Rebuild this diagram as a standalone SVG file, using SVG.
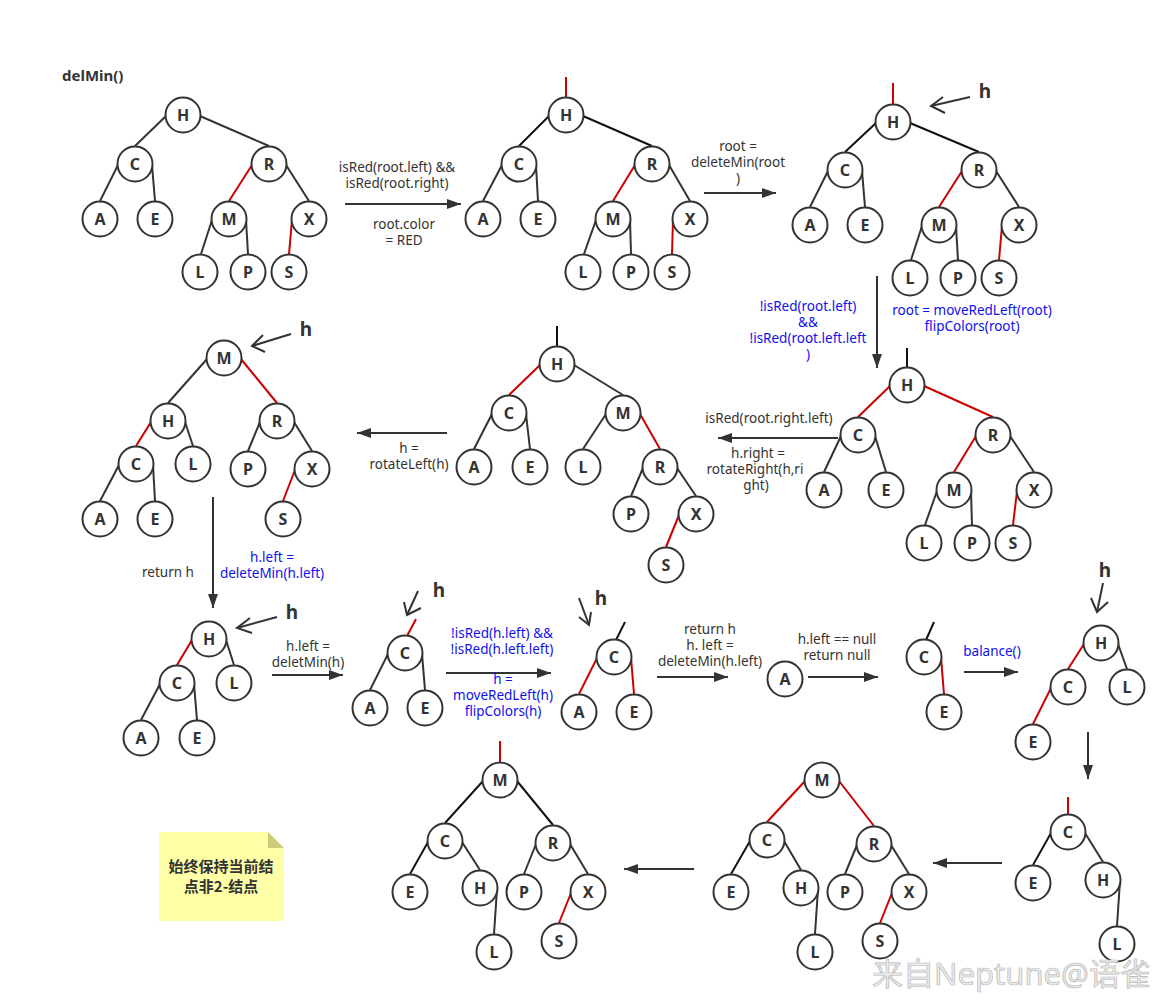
<svg xmlns="http://www.w3.org/2000/svg" width="1176" height="1002" viewBox="0 0 1176 1002">
<style>
.n circle{fill:#fff;stroke:#333;stroke-width:2}
.n text{font-family:"Noto Sans","Open Sans",sans-serif;font-weight:bold;font-size:16px;fill:#333;text-anchor:middle}
.e line{stroke:#333;stroke-width:2}
.e line.r{stroke:#cc0000}
.e line.k{stroke:#111}
.a{stroke:#333;stroke-width:2;fill:none}
.lb{font-family:"Noto Sans","Open Sans",sans-serif;font-size:13.5px;fill:#333;text-anchor:middle}
.bl{fill:#1010ee}
.hl{font-family:"Noto Sans","Open Sans",sans-serif;font-weight:bold;font-size:19px;fill:#333;text-anchor:middle}
</style>
<defs>
<marker id="arr" markerUnits="userSpaceOnUse" markerWidth="14" markerHeight="10" refX="14" refY="5" orient="auto"><path d="M0,0 L14,5 L0,10 z" fill="#333"/></marker>
</defs>
<rect width="1176" height="1002" fill="#fff"/>
<text x="62" y="81" style="font-family:'Noto Sans',sans-serif;font-weight:bold;font-size:15px;fill:#333">delMin()</text>

<g id="connectors">
<g class="e">
<!-- t1 -->
<line x1="166" y1="116" x2="135" y2="146"/><line x1="200" y1="116" x2="269" y2="146"/>
<line x1="118" y1="165" x2="100" y2="201"/><line x1="152" y1="165" x2="155" y2="201"/>
<line class="r" x1="252" y1="165" x2="229" y2="201"/><line x1="286" y1="165" x2="309" y2="201"/>
<line x1="212" y1="220" x2="201" y2="254"/><line x1="246" y1="220" x2="248" y2="254"/>
<line class="r" x1="292" y1="220" x2="289" y2="254"/>
<!-- t2 -->
<line class="r" x1="566" y1="77" x2="566" y2="97"/>
<line class="k" x1="549" y1="116" x2="519" y2="146"/><line class="k" x1="583" y1="116" x2="652" y2="146"/>
<line x1="502" y1="165" x2="483" y2="201"/><line x1="536" y1="165" x2="538" y2="201"/>
<line class="r" x1="635" y1="165" x2="613" y2="201"/><line x1="669" y1="165" x2="690" y2="201"/>
<line x1="596" y1="220" x2="584" y2="254"/><line x1="630" y1="220" x2="631" y2="254"/>
<line class="r" x1="673" y1="220" x2="672" y2="254"/>
<!-- t3 -->
<line class="r" x1="893" y1="83" x2="893" y2="104"/>
<line class="k" x1="876" y1="123" x2="845" y2="152"/><line class="k" x1="910" y1="123" x2="979" y2="152"/>
<line x1="828" y1="171" x2="810" y2="207"/><line x1="862" y1="171" x2="865" y2="207"/>
<line class="r" x1="962" y1="171" x2="939" y2="207"/><line x1="996" y1="171" x2="1019" y2="207"/>
<line x1="922" y1="226" x2="911" y2="260"/><line x1="956" y1="226" x2="958" y2="260"/>
<line class="r" x1="1002" y1="226" x2="999" y2="260"/>
<!-- t4 -->
<line class="k" x1="907" y1="348" x2="907" y2="367"/>
<line class="r" x1="890" y1="386" x2="858" y2="417"/><line class="r" x1="924" y1="386" x2="993" y2="417"/>
<line x1="841" y1="436" x2="824" y2="472"/><line x1="875" y1="436" x2="886" y2="472"/>
<line class="r" x1="976" y1="436" x2="954" y2="472"/><line x1="1010" y1="436" x2="1034" y2="472"/>
<line x1="937" y1="491" x2="925" y2="525"/><line x1="971" y1="491" x2="972" y2="525"/>
<line class="r" x1="1017" y1="491" x2="1013" y2="525"/>
<!-- t5 -->
<line class="k" x1="557" y1="326" x2="557" y2="346"/>
<line class="r" x1="540" y1="365" x2="509" y2="395"/><line x1="574" y1="365" x2="623" y2="395"/>
<line x1="492" y1="414" x2="474" y2="449"/><line x1="526" y1="414" x2="530" y2="449"/>
<line x1="606" y1="414" x2="583" y2="449"/><line class="r" x1="640" y1="414" x2="660" y2="449"/>
<line x1="643" y1="468" x2="631" y2="496"/><line x1="677" y1="468" x2="696" y2="496"/>
<line class="r" x1="679" y1="515" x2="666" y2="547"/>
<!-- t6 -->
<line x1="207" y1="359" x2="168" y2="403"/><line class="r" x1="241" y1="359" x2="277" y2="403"/>
<line class="r" x1="151" y1="422" x2="136" y2="446"/><line x1="185" y1="422" x2="193" y2="446"/>
<line x1="260" y1="422" x2="248" y2="451"/><line x1="294" y1="422" x2="312" y2="451"/>
<line x1="119" y1="465" x2="100" y2="501"/><line x1="153" y1="465" x2="155" y2="501"/>
<line class="r" x1="295" y1="470" x2="283" y2="501"/>
<!-- t7 -->
<line class="r" x1="192" y1="640" x2="177" y2="665"/><line x1="226" y1="640" x2="234" y2="665"/>
<line x1="160" y1="684" x2="141" y2="720"/><line x1="194" y1="684" x2="197" y2="720"/>
<!-- t8 -->
<line class="r" x1="407" y1="636" x2="416" y2="619"/>
<line x1="388" y1="654" x2="370" y2="690"/><line x1="422" y1="654" x2="425" y2="690"/>
<!-- t9 -->
<line class="k" x1="616" y1="640" x2="625" y2="622"/>
<line class="r" x1="597" y1="658" x2="579" y2="694"/><line class="r" x1="631" y1="658" x2="634" y2="694"/>
<!-- t11 -->
<line class="k" x1="926" y1="640" x2="934" y2="622"/>
<line class="r" x1="941" y1="658" x2="944" y2="694"/>
<!-- t12 -->
<line class="r" x1="1084" y1="644" x2="1068" y2="669"/><line x1="1118" y1="644" x2="1127" y2="669"/>
<line class="r" x1="1051" y1="688" x2="1033" y2="724"/>
<!-- t13 -->
<line class="r" x1="1068" y1="797" x2="1068" y2="814"/>
<line class="k" x1="1051" y1="833" x2="1033" y2="865"/><line x1="1085" y1="833" x2="1103" y2="862"/>
<line x1="1120" y1="881" x2="1117" y2="926"/>
<!-- t14 -->
<line class="r" x1="805" y1="781" x2="767" y2="822"/><line class="r" x1="839" y1="781" x2="874" y2="826"/>
<line class="k" x1="750" y1="841" x2="731" y2="874"/><line x1="784" y1="841" x2="801" y2="870"/>
<line x1="857" y1="845" x2="845" y2="874"/><line x1="891" y1="845" x2="909" y2="874"/>
<line x1="818" y1="889" x2="815" y2="934"/>
<line class="r" x1="892" y1="893" x2="880" y2="923"/>
<!-- t15 -->
<line class="r" x1="500" y1="741" x2="500" y2="762"/>
<line class="k" x1="483" y1="781" x2="445" y2="823"/><line class="k" x1="517" y1="781" x2="553" y2="825"/>
<line class="k" x1="428" y1="842" x2="410" y2="874"/><line x1="462" y1="842" x2="480" y2="870"/>
<line x1="536" y1="844" x2="524" y2="874"/><line x1="570" y1="844" x2="588" y2="874"/>
<line x1="497" y1="889" x2="494" y2="934"/>
<line class="r" x1="571" y1="893" x2="559" y2="923"/>
</g>
<!-- step arrows -->
<g class="a" marker-end="url(#arr)">
<line x1="345" y1="204" x2="461" y2="204"/>
<line x1="704" y1="193" x2="776" y2="193"/>
<line x1="877" y1="276" x2="877" y2="368"/>
<line x1="838" y1="438" x2="718" y2="438"/>
<line x1="447" y1="433" x2="357" y2="433"/>
<line x1="213" y1="497" x2="213" y2="608"/>
<line x1="272" y1="675" x2="343" y2="675"/>
<line x1="446" y1="673" x2="551" y2="673"/>
<line x1="657" y1="677" x2="728" y2="677"/>
<line x1="808" y1="677" x2="878" y2="677"/>
<line x1="964" y1="672" x2="1018" y2="672"/>
<line x1="1088" y1="732" x2="1088" y2="779"/>
<line x1="1002" y1="863" x2="933" y2="863"/>
<line x1="694" y1="869" x2="624" y2="869"/>
</g>
<!-- h pointers -->
<g class="a">
<line x1="970" y1="97" x2="931" y2="106"/><polyline points="943,97 931,106 945,113"/>
<line x1="291" y1="334" x2="252" y2="346"/><polyline points="263,335 252,346 265,352"/>
<line x1="277" y1="617" x2="237" y2="628"/><polyline points="250,618 237,628 252,633"/>
<line x1="418" y1="591" x2="407" y2="615"/><polyline points="404,602 407,615 421,608"/>
<line x1="579" y1="598" x2="589" y2="625"/><polyline points="579,617 589,625 591,612"/>
<line x1="1103" y1="583" x2="1097" y2="612"/><polyline points="1091,598 1097,612 1108,602"/>
</g>
</g>

<g id="pointer-labels">
<text class="hl" x="985" y="98">h</text>
<text class="hl" x="306" y="336">h</text>
<text class="hl" x="292" y="619">h</text>
<text class="hl" x="439" y="597">h</text>
<text class="hl" x="601" y="605">h</text>
<text class="hl" x="1105" y="577">h</text>
</g>

<g id="labels">
<text class="lb" x="397" y="172">isRed(root.left) &amp;&amp;</text>
<text class="lb" x="397" y="188">isRed(root.right)</text>
<text class="lb" x="404" y="229">root.color</text>
<text class="lb" x="404" y="245">= RED</text>
<text class="lb" x="738" y="151">root =</text>
<text class="lb" x="738" y="167">deleteMin(root</text>
<text class="lb" x="738" y="183">)</text>
<text class="lb bl" x="808" y="311">!isRed(root.left)</text>
<text class="lb bl" x="808" y="327">&amp;&amp;</text>
<text class="lb bl" x="808" y="343">!isRed(root.left.left</text>
<text class="lb bl" x="808" y="359">)</text>
<text class="lb bl" x="972" y="315">root = moveRedLeft(root)</text>
<text class="lb bl" x="972" y="331">flipColors(root)</text>
<text class="lb" x="769" y="423">isRed(root.right.left)</text>
<text class="lb" x="758" y="458">h.right =</text>
<text class="lb" x="755" y="474">rotateRight(h,ri</text>
<text class="lb" x="756" y="490">ght)</text>
<text class="lb" x="409" y="453">h =</text>
<text class="lb" x="409" y="469">rotateLeft(h)</text>
<text class="lb" x="168" y="577">return h</text>
<text class="lb bl" x="272" y="562">h.left =</text>
<text class="lb bl" x="272" y="578">deleteMin(h.left)</text>
<text class="lb" x="308" y="651">h.left =</text>
<text class="lb" x="308" y="667">deletMin(h)</text>
<text class="lb bl" x="502" y="638">!isRed(h.left) &amp;&amp;</text>
<text class="lb bl" x="502" y="654">!isRed(h.left.left)</text>
<text class="lb bl" x="503" y="684">h =</text>
<text class="lb bl" x="503" y="700">moveRedLeft(h)</text>
<text class="lb bl" x="503" y="716">flipColors(h)</text>
<text class="lb" x="710" y="634">return h</text>
<text class="lb" x="710" y="650">h. left =</text>
<text class="lb" x="710" y="666">deleteMin(h.left)</text>
<text class="lb" x="837" y="644">h.left == null</text>
<text class="lb" x="837" y="660">return null</text>
<text class="lb bl" x="992" y="656">balance()</text>
</g>

<!-- tree 1 -->
<g id="t1-H" class="n"><circle cx="183" cy="115" r="17.5"/><text x="183" y="121">H</text></g>
<g id="t1-C" class="n"><circle cx="135" cy="164" r="17.5"/><text x="135" y="170">C</text></g>
<g id="t1-R" class="n"><circle cx="269" cy="164" r="17.5"/><text x="269" y="170">R</text></g>
<g id="t1-A" class="n"><circle cx="100" cy="219" r="17.5"/><text x="100" y="225">A</text></g>
<g id="t1-E" class="n"><circle cx="155" cy="219" r="17.5"/><text x="155" y="225">E</text></g>
<g id="t1-M" class="n"><circle cx="229" cy="219" r="17.5"/><text x="229" y="225">M</text></g>
<g id="t1-X" class="n"><circle cx="309" cy="219" r="17.5"/><text x="309" y="225">X</text></g>
<g id="t1-L" class="n"><circle cx="200" cy="272" r="17.5"/><text x="200" y="278">L</text></g>
<g id="t1-P" class="n"><circle cx="248" cy="272" r="17.5"/><text x="248" y="278">P</text></g>
<g id="t1-S" class="n"><circle cx="289" cy="272" r="17.5"/><text x="289" y="278">S</text></g>
<!-- tree 2 -->
<g id="t2-H" class="n"><circle cx="566" cy="115" r="17.5"/><text x="566" y="121">H</text></g>
<g id="t2-C" class="n"><circle cx="519" cy="164" r="17.5"/><text x="519" y="170">C</text></g>
<g id="t2-R" class="n"><circle cx="652" cy="164" r="17.5"/><text x="652" y="170">R</text></g>
<g id="t2-A" class="n"><circle cx="483" cy="219" r="17.5"/><text x="483" y="225">A</text></g>
<g id="t2-E" class="n"><circle cx="538" cy="219" r="17.5"/><text x="538" y="225">E</text></g>
<g id="t2-M" class="n"><circle cx="613" cy="219" r="17.5"/><text x="613" y="225">M</text></g>
<g id="t2-X" class="n"><circle cx="690" cy="219" r="17.5"/><text x="690" y="225">X</text></g>
<g id="t2-L" class="n"><circle cx="583" cy="272" r="17.5"/><text x="583" y="278">L</text></g>
<g id="t2-P" class="n"><circle cx="631" cy="272" r="17.5"/><text x="631" y="278">P</text></g>
<g id="t2-S" class="n"><circle cx="672" cy="272" r="17.5"/><text x="672" y="278">S</text></g>
<!-- tree 3 -->
<g id="t3-H" class="n"><circle cx="893" cy="122" r="17.5"/><text x="893" y="128">H</text></g>
<g id="t3-C" class="n"><circle cx="845" cy="170" r="17.5"/><text x="845" y="176">C</text></g>
<g id="t3-R" class="n"><circle cx="979" cy="170" r="17.5"/><text x="979" y="176">R</text></g>
<g id="t3-A" class="n"><circle cx="810" cy="225" r="17.5"/><text x="810" y="231">A</text></g>
<g id="t3-E" class="n"><circle cx="865" cy="225" r="17.5"/><text x="865" y="231">E</text></g>
<g id="t3-M" class="n"><circle cx="939" cy="225" r="17.5"/><text x="939" y="231">M</text></g>
<g id="t3-X" class="n"><circle cx="1019" cy="225" r="17.5"/><text x="1019" y="231">X</text></g>
<g id="t3-L" class="n"><circle cx="910" cy="278" r="17.5"/><text x="910" y="284">L</text></g>
<g id="t3-P" class="n"><circle cx="958" cy="278" r="17.5"/><text x="958" y="284">P</text></g>
<g id="t3-S" class="n"><circle cx="999" cy="278" r="17.5"/><text x="999" y="284">S</text></g>
<!-- tree 4 -->
<g id="t4-H" class="n"><circle cx="907" cy="385" r="17.5"/><text x="907" y="391">H</text></g>
<g id="t4-C" class="n"><circle cx="858" cy="435" r="17.5"/><text x="858" y="441">C</text></g>
<g id="t4-R" class="n"><circle cx="993" cy="435" r="17.5"/><text x="993" y="441">R</text></g>
<g id="t4-A" class="n"><circle cx="824" cy="490" r="17.5"/><text x="824" y="496">A</text></g>
<g id="t4-E" class="n"><circle cx="886" cy="490" r="17.5"/><text x="886" y="496">E</text></g>
<g id="t4-M" class="n"><circle cx="954" cy="490" r="17.5"/><text x="954" y="496">M</text></g>
<g id="t4-X" class="n"><circle cx="1034" cy="490" r="17.5"/><text x="1034" y="496">X</text></g>
<g id="t4-L" class="n"><circle cx="924" cy="543" r="17.5"/><text x="924" y="549">L</text></g>
<g id="t4-P" class="n"><circle cx="972" cy="543" r="17.5"/><text x="972" y="549">P</text></g>
<g id="t4-S" class="n"><circle cx="1013" cy="543" r="17.5"/><text x="1013" y="549">S</text></g>
<!-- tree 5 -->
<g id="t5-H" class="n"><circle cx="557" cy="364" r="17.5"/><text x="557" y="370">H</text></g>
<g id="t5-C" class="n"><circle cx="509" cy="413" r="17.5"/><text x="509" y="419">C</text></g>
<g id="t5-M" class="n"><circle cx="623" cy="413" r="17.5"/><text x="623" y="419">M</text></g>
<g id="t5-A" class="n"><circle cx="474" cy="467" r="17.5"/><text x="474" y="473">A</text></g>
<g id="t5-E" class="n"><circle cx="530" cy="467" r="17.5"/><text x="530" y="473">E</text></g>
<g id="t5-L" class="n"><circle cx="583" cy="467" r="17.5"/><text x="583" y="473">L</text></g>
<g id="t5-R" class="n"><circle cx="660" cy="467" r="17.5"/><text x="660" y="473">R</text></g>
<g id="t5-P" class="n"><circle cx="631" cy="514" r="17.5"/><text x="631" y="520">P</text></g>
<g id="t5-X" class="n"><circle cx="696" cy="514" r="17.5"/><text x="696" y="520">X</text></g>
<g id="t5-S" class="n"><circle cx="666" cy="565" r="17.5"/><text x="666" y="571">S</text></g>
<!-- tree 6 -->
<g id="t6-M" class="n"><circle cx="224" cy="358" r="17.5"/><text x="224" y="364">M</text></g>
<g id="t6-H" class="n"><circle cx="168" cy="421" r="17.5"/><text x="168" y="427">H</text></g>
<g id="t6-R" class="n"><circle cx="277" cy="421" r="17.5"/><text x="277" y="427">R</text></g>
<g id="t6-C" class="n"><circle cx="136" cy="464" r="17.5"/><text x="136" y="470">C</text></g>
<g id="t6-L" class="n"><circle cx="193" cy="464" r="17.5"/><text x="193" y="470">L</text></g>
<g id="t6-P" class="n"><circle cx="248" cy="469" r="17.5"/><text x="248" y="475">P</text></g>
<g id="t6-X" class="n"><circle cx="312" cy="469" r="17.5"/><text x="312" y="475">X</text></g>
<g id="t6-A" class="n"><circle cx="100" cy="519" r="17.5"/><text x="100" y="525">A</text></g>
<g id="t6-E" class="n"><circle cx="155" cy="519" r="17.5"/><text x="155" y="525">E</text></g>
<g id="t6-S" class="n"><circle cx="283" cy="519" r="17.5"/><text x="283" y="525">S</text></g>
<!-- tree 7 -->
<g id="t7-H" class="n"><circle cx="209" cy="639" r="17.5"/><text x="209" y="645">H</text></g>
<g id="t7-C" class="n"><circle cx="177" cy="683" r="17.5"/><text x="177" y="689">C</text></g>
<g id="t7-L" class="n"><circle cx="234" cy="683" r="17.5"/><text x="234" y="689">L</text></g>
<g id="t7-A" class="n"><circle cx="141" cy="738" r="17.5"/><text x="141" y="744">A</text></g>
<g id="t7-E" class="n"><circle cx="197" cy="738" r="17.5"/><text x="197" y="744">E</text></g>
<!-- tree 8 -->
<g id="t8-C" class="n"><circle cx="405" cy="653" r="17.5"/><text x="405" y="659">C</text></g>
<g id="t8-A" class="n"><circle cx="370" cy="708" r="17.5"/><text x="370" y="714">A</text></g>
<g id="t8-E" class="n"><circle cx="425" cy="708" r="17.5"/><text x="425" y="714">E</text></g>
<!-- tree 9 -->
<g id="t9-C" class="n"><circle cx="614" cy="657" r="17.5"/><text x="614" y="663">C</text></g>
<g id="t9-A" class="n"><circle cx="579" cy="712" r="17.5"/><text x="579" y="718">A</text></g>
<g id="t9-E" class="n"><circle cx="634" cy="712" r="17.5"/><text x="634" y="718">E</text></g>
<!-- tree 10 -->
<g id="t10-A" class="n"><circle cx="785" cy="679" r="17.5"/><text x="785" y="685">A</text></g>
<!-- tree 11 -->
<g id="t11-C" class="n"><circle cx="924" cy="657" r="17.5"/><text x="924" y="663">C</text></g>
<g id="t11-E" class="n"><circle cx="944" cy="712" r="17.5"/><text x="944" y="718">E</text></g>
<!-- tree 12 -->
<g id="t12-H" class="n"><circle cx="1101" cy="643" r="17.5"/><text x="1101" y="649">H</text></g>
<g id="t12-C" class="n"><circle cx="1068" cy="687" r="17.5"/><text x="1068" y="693">C</text></g>
<g id="t12-L" class="n"><circle cx="1127" cy="687" r="17.5"/><text x="1127" y="693">L</text></g>
<g id="t12-E" class="n"><circle cx="1033" cy="742" r="17.5"/><text x="1033" y="748">E</text></g>
<!-- tree 13 -->
<g id="t13-C" class="n"><circle cx="1068" cy="832" r="17.5"/><text x="1068" y="838">C</text></g>
<g id="t13-E" class="n"><circle cx="1033" cy="883" r="17.5"/><text x="1033" y="889">E</text></g>
<g id="t13-H" class="n"><circle cx="1103" cy="880" r="17.5"/><text x="1103" y="886">H</text></g>
<g id="t13-L" class="n"><circle cx="1117" cy="944" r="17.5"/><text x="1117" y="950">L</text></g>
<!-- tree 14 -->
<g id="t14-M" class="n"><circle cx="822" cy="780" r="17.5"/><text x="822" y="786">M</text></g>
<g id="t14-C" class="n"><circle cx="767" cy="840" r="17.5"/><text x="767" y="846">C</text></g>
<g id="t14-R" class="n"><circle cx="874" cy="844" r="17.5"/><text x="874" y="850">R</text></g>
<g id="t14-E" class="n"><circle cx="731" cy="892" r="17.5"/><text x="731" y="898">E</text></g>
<g id="t14-H" class="n"><circle cx="801" cy="888" r="17.5"/><text x="801" y="894">H</text></g>
<g id="t14-P" class="n"><circle cx="845" cy="892" r="17.5"/><text x="845" y="898">P</text></g>
<g id="t14-X" class="n"><circle cx="909" cy="892" r="17.5"/><text x="909" y="898">X</text></g>
<g id="t14-L" class="n"><circle cx="815" cy="952" r="17.5"/><text x="815" y="958">L</text></g>
<g id="t14-S" class="n"><circle cx="880" cy="941" r="17.5"/><text x="880" y="947">S</text></g>
<!-- tree 15 -->
<g id="t15-M" class="n"><circle cx="500" cy="780" r="17.5"/><text x="500" y="786">M</text></g>
<g id="t15-C" class="n"><circle cx="445" cy="841" r="17.5"/><text x="445" y="847">C</text></g>
<g id="t15-R" class="n"><circle cx="553" cy="843" r="17.5"/><text x="553" y="849">R</text></g>
<g id="t15-E" class="n"><circle cx="410" cy="892" r="17.5"/><text x="410" y="898">E</text></g>
<g id="t15-H" class="n"><circle cx="480" cy="888" r="17.5"/><text x="480" y="894">H</text></g>
<g id="t15-P" class="n"><circle cx="524" cy="892" r="17.5"/><text x="524" y="898">P</text></g>
<g id="t15-X" class="n"><circle cx="588" cy="892" r="17.5"/><text x="588" y="898">X</text></g>
<g id="t15-L" class="n"><circle cx="494" cy="952" r="17.5"/><text x="494" y="958">L</text></g>
<g id="t15-S" class="n"><circle cx="559" cy="941" r="17.5"/><text x="559" y="947">S</text></g>

<g id="note">
<polygon points="159,832 268,832 284,848 284,921 159,921" fill="#ffffa8"/>
<polygon points="268,832 284,848 268,848" fill="#cccc7a"/>
<text x="221" y="872" style="font-family:'Noto Sans CJK SC',sans-serif;font-weight:bold;font-size:15px;fill:#333;text-anchor:middle">始终保持当前结</text>
<text x="221" y="892" style="font-family:'Noto Sans CJK SC',sans-serif;font-weight:bold;font-size:15px;fill:#333;text-anchor:middle">点非2-结点</text>
</g>

<text x="872" y="985" style="font-family:'Noto Sans','Noto Sans CJK SC',sans-serif;font-size:31px;fill:#ececec;stroke:#b8b8b8;stroke-width:0.7">来自Neptune@语雀</text>
</svg>
